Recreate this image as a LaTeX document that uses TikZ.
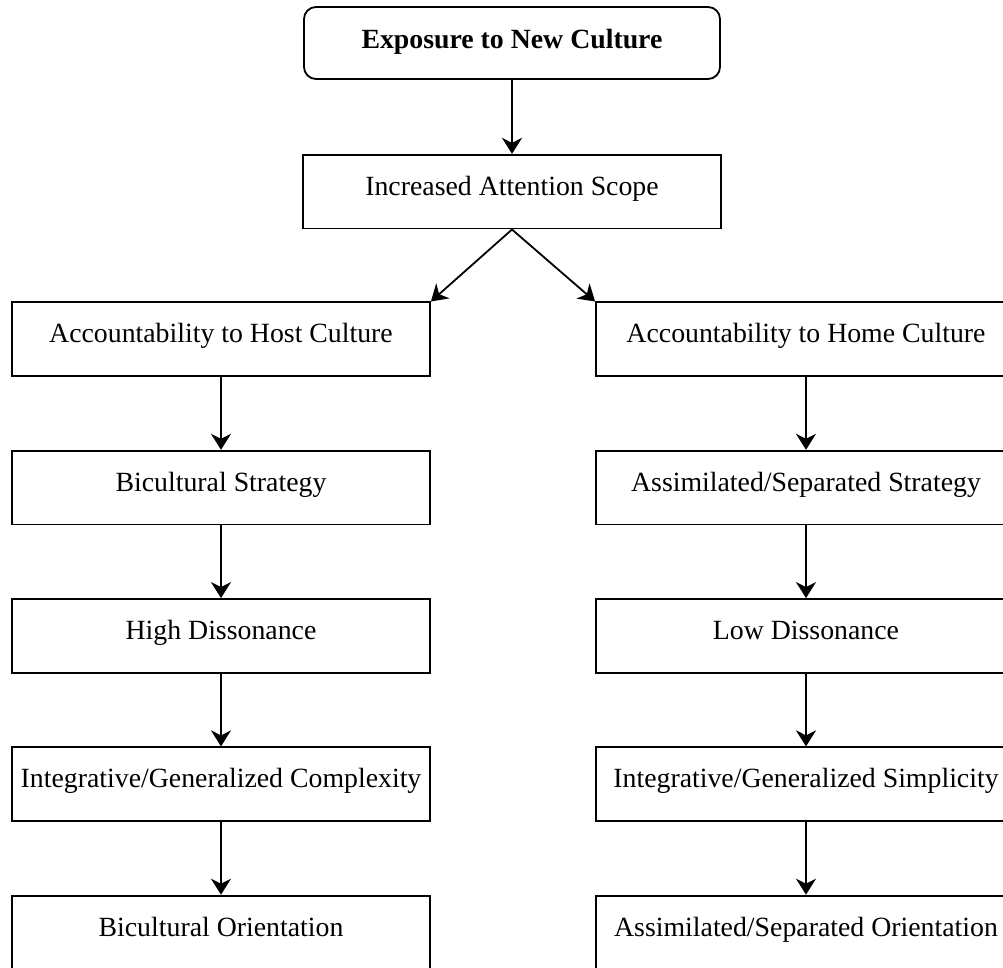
\documentclass[tikz,border=0pt]{standalone}
\usepackage{fontspec}
\setmainfont{Liberation Serif}
\usetikzlibrary{arrows.meta,positioning}
\tikzset{
  box/.style   = {draw=black, line width=0.9pt, align=center, font=\fontsize{13.9}{16}\selectfont,
                  minimum width=209pt, inner ysep=0pt, text height=20.3pt, text depth=16.6pt},
  start/.style = {box, rounded corners=6pt, minimum width=208pt,
                  font=\fontsize{13.9}{16}\selectfont\bfseries, text height=20.8pt, text depth=15.2pt},
  flow/.style  = {-{Stealth[length=8pt,width=10pt,inset=2.5pt]}, line width=0.9pt},
}
\begin{document}
\begin{tikzpicture}[node distance=36.35pt]
  \clip (0,0) rectangle (501.5pt,-484pt);
  \node[start] (expo) at (256pt,-21.5pt) {Exposure to New Culture};
  \node[box, below=37pt of expo] (scope) {Increased Attention Scope};
  % left branch
  \node[box, below=36pt of scope, xshift=-145.5pt] (host) {Accountability to Host Culture};
  \node[box, below=of host] (bistrat) {Bicultural Strategy};
  \node[box, below=of bistrat] (highdis) {High Dissonance};
  \node[box, below=of highdis] (complex) {Integrative/Generalized Complexity};
  \node[box, below=of complex] (biorient) {Bicultural Orientation};
  % right branch
  \node[box, minimum width=210pt, below=36pt of scope, xshift=147pt] (home) {Accountability to Home Culture};
  \node[box, minimum width=210pt, below=of home] (asstrat) {Assimilated/Separated Strategy};
  \node[box, minimum width=210pt, below=of asstrat] (lowdis) {Low Dissonance};
  \node[box, minimum width=210pt, below=of lowdis] (simple) {Integrative/Generalized Simplicity};
  \node[box, minimum width=210pt, below=of simple] (asorient) {Assimilated/Separated Orientation};
  \draw[flow] (expo) -- (scope);
  \draw[flow] (scope.south) -- (host.north east);
  \draw[flow] (scope.south) -- (home.north west);
  \draw[flow] (host) -- (bistrat);
  \draw[flow] (bistrat) -- (highdis);
  \draw[flow] (highdis) -- (complex);
  \draw[flow] (complex) -- (biorient);
  \draw[flow] (home) -- (asstrat);
  \draw[flow] (asstrat) -- (lowdis);
  \draw[flow] (lowdis) -- (simple);
  \draw[flow] (simple) -- (asorient);
\end{tikzpicture}
\end{document}
